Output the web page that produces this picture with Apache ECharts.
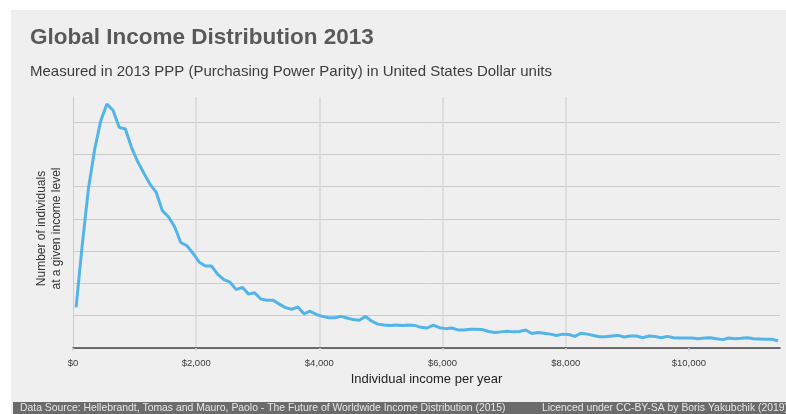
<!DOCTYPE html>
<html>
<head>
<meta charset="utf-8">
<script src="https://cdn.jsdelivr.net/npm/echarts@6/dist/echarts.min.js"></script>
<style>
  html, body { margin: 0; padding: 0; background: #ffffff; }
  #chart { width: 786px; height: 414px; }
</style>
</head>
<body>
<div id="chart"></div>
<script>
// Income bin midpoints (USD per year, 2013 PPP), $100 wide bins
const incomeBins = [
  50, 150, 250, 350, 450, 550, 650, 750, 850, 950,
  1050, 1150, 1250, 1350, 1450, 1550, 1650, 1750, 1850, 1950,
  2050, 2150, 2250, 2350, 2450, 2550, 2650, 2750, 2850, 2950,
  3050, 3150, 3250, 3350, 3450, 3550, 3650, 3750, 3850, 3950,
  4050, 4150, 4250, 4350, 4450, 4550, 4650, 4750, 4850, 4950,
  5050, 5150, 5250, 5350, 5450, 5550, 5650, 5750, 5850, 5950,
  6050, 6150, 6250, 6350, 6450, 6550, 6650, 6750, 6850, 6950,
  7050, 7150, 7250, 7350, 7450, 7550, 7650, 7750, 7850, 7950,
  8050, 8150, 8250, 8350, 8450, 8550, 8650, 8750, 8850, 8950,
  9050, 9150, 9250, 9350, 9450, 9550, 9650, 9750, 9850, 9950,
  10050, 10150, 10250, 10350, 10450, 10550, 10650, 10750, 10850, 10950,
  11050, 11150, 11250, 11350, 11450
];

// Relative number of individuals in each income bin
const individuals = [
  12.6, 31.9, 49.3, 61.4, 70.4, 75.6, 73.7, 68.4, 67.9, 62.2,
  57.8, 54.2, 50.8, 48.3, 42.6, 40.7, 37.6, 32.7, 31.7, 29.3,
  26.6, 25.4, 25.4, 22.8, 21.2, 20.4, 18.1, 18.8, 16.7, 17.1,
  15.2, 14.8, 14.8, 13.6, 12.5, 12.0, 12.7, 10.6, 11.4, 10.4,
  9.8, 9.4, 9.4, 9.8, 9.3, 8.8, 8.6, 9.8, 8.3, 7.4,
  7.1, 7.0, 7.1, 7.0, 7.1, 7.0, 6.4, 6.2, 7.1, 6.3,
  6.0, 6.2, 5.6, 5.6, 5.8, 5.8, 5.7, 5.1, 4.8, 5.0,
  5.2, 5.0, 5.1, 5.6, 4.5, 4.8, 4.6, 4.3, 3.9, 4.3,
  4.2, 3.6, 4.6, 4.3, 3.9, 3.5, 3.5, 3.7, 3.9, 3.4,
  3.7, 3.7, 3.2, 3.7, 3.6, 3.2, 3.6, 3.2, 3.1, 3.1,
  3.1, 2.9, 3.1, 3.2, 2.9, 2.6, 3.1, 2.9, 3.0, 3.2,
  2.9, 2.8, 2.7, 2.7, 2.2
];

// Labelled income ticks on the horizontal axis
const xTicks = [0, 2000, 4000, 6000, 8000, 10000];

const titleText = 'Global Income Distribution 2013';
const subtitleText = 'Measured in 2013 PPP (Purchasing Power Parity) in United States Dollar units';
const xAxisTitle = 'Individual income per year';
const yAxisTitle = 'Number of individuals\nat a given income level';
const sourceText = 'Data Source: Hellebrandt, Tomas and Mauro, Paolo - The Future of Worldwide Income Distribution (2015)';
const licenceText = 'Licenced under CC-BY-SA by Boris Yakubchik (2019)';

const FONT = '"Liberation Sans", Arial, sans-serif';

const chart = echarts.init(document.getElementById('chart'), null, { renderer: 'canvas' });

const points = incomeBins.map((x, i) => [x, individuals[i]]);

chart.setOption({
  backgroundColor: '#efefef',
  animation: false,
  textStyle: { fontFamily: FONT },
  title: [
    {
      text: titleText,
      left: 30, top: 26, padding: 0,
      textStyle: { fontFamily: FONT, fontSize: 22.5, fontWeight: 'bold', color: '#595959' }
    },
    {
      text: subtitleText,
      left: 30, top: 64, padding: 0,
      textStyle: { fontFamily: FONT, fontSize: 15, fontWeight: 'normal', color: '#3c3c3c' }
    }
  ],
  grid: { left: 73, right: 6, top: 97, bottom: 66, containLabel: false },
  xAxis: {
    type: 'value',
    min: 0,
    max: 11480,
    interval: 2000,
    name: xAxisTitle,
    nameLocation: 'middle',
    nameGap: 22,
    nameTextStyle: { fontFamily: FONT, fontSize: 13, color: '#222222' },
    axisLine: { show: true, lineStyle: { color: '#444444', width: 1.5 } },
    axisTick: { show: true, length: 3, customValues: xTicks, lineStyle: { color: '#d6d6d6', width: 1.5 } },
    axisLabel: {
      customValues: xTicks,
      margin: 10,
      fontFamily: FONT,
      fontSize: 9.5,
      color: '#3a3a3a',
      formatter: v => '$' + v.toLocaleString('en-US')
    },
    splitLine: { show: true, showMaxLine: false, showMinLine: false, lineStyle: { color: '#d9d9d9', width: 1.5 } }
  },
  yAxis: {
    type: 'value',
    min: 0,
    max: 77.8,
    interval: 10,
    name: yAxisTitle,
    nameLocation: 'middle',
    nameGap: 9,
    nameRotate: 90,
    nameTextStyle: { fontFamily: FONT, fontSize: 12, color: '#333333', lineHeight: 15, align: 'center', padding: [0, 12, 0, 0] },
    axisLine: { show: true, lineStyle: { color: '#cccccc', width: 1 } },
    axisTick: { show: false },
    axisLabel: { show: false },
    splitLine: { show: true, showMaxLine: false, lineStyle: { color: '#cccccc', width: 1 } }
  },
  series: [{
    type: 'line',
    data: points,
    showSymbol: false,
    symbol: 'none',
    smooth: false,
    lineStyle: { color: '#52b4e8', width: 3 },
    z: 5
  }],
  graphic: [
    // white frame along the top and left edges
    { type: 'rect', left: 0, top: 0, shape: { width: 786, height: 10 }, style: { fill: '#ffffff' }, silent: true },
    { type: 'rect', left: 0, top: 0, shape: { width: 11, height: 414 }, style: { fill: '#ffffff' }, silent: true },
    // footer band with source and licence
    { type: 'rect', left: 13, top: 402, shape: { width: 773, height: 12 }, style: { fill: '#6b6b6b' }, silent: true, z: 10 },
    { type: 'text', left: 20, top: 403, style: { text: sourceText, fill: '#e6e6e6', font: '10.4px ' + FONT }, silent: true, z: 11 },
    { type: 'text', left: 542, top: 403, style: { text: licenceText, fill: '#e6e6e6', font: '10.4px ' + FONT }, silent: true, z: 11 }
  ]
});
</script>
</body>
</html>
